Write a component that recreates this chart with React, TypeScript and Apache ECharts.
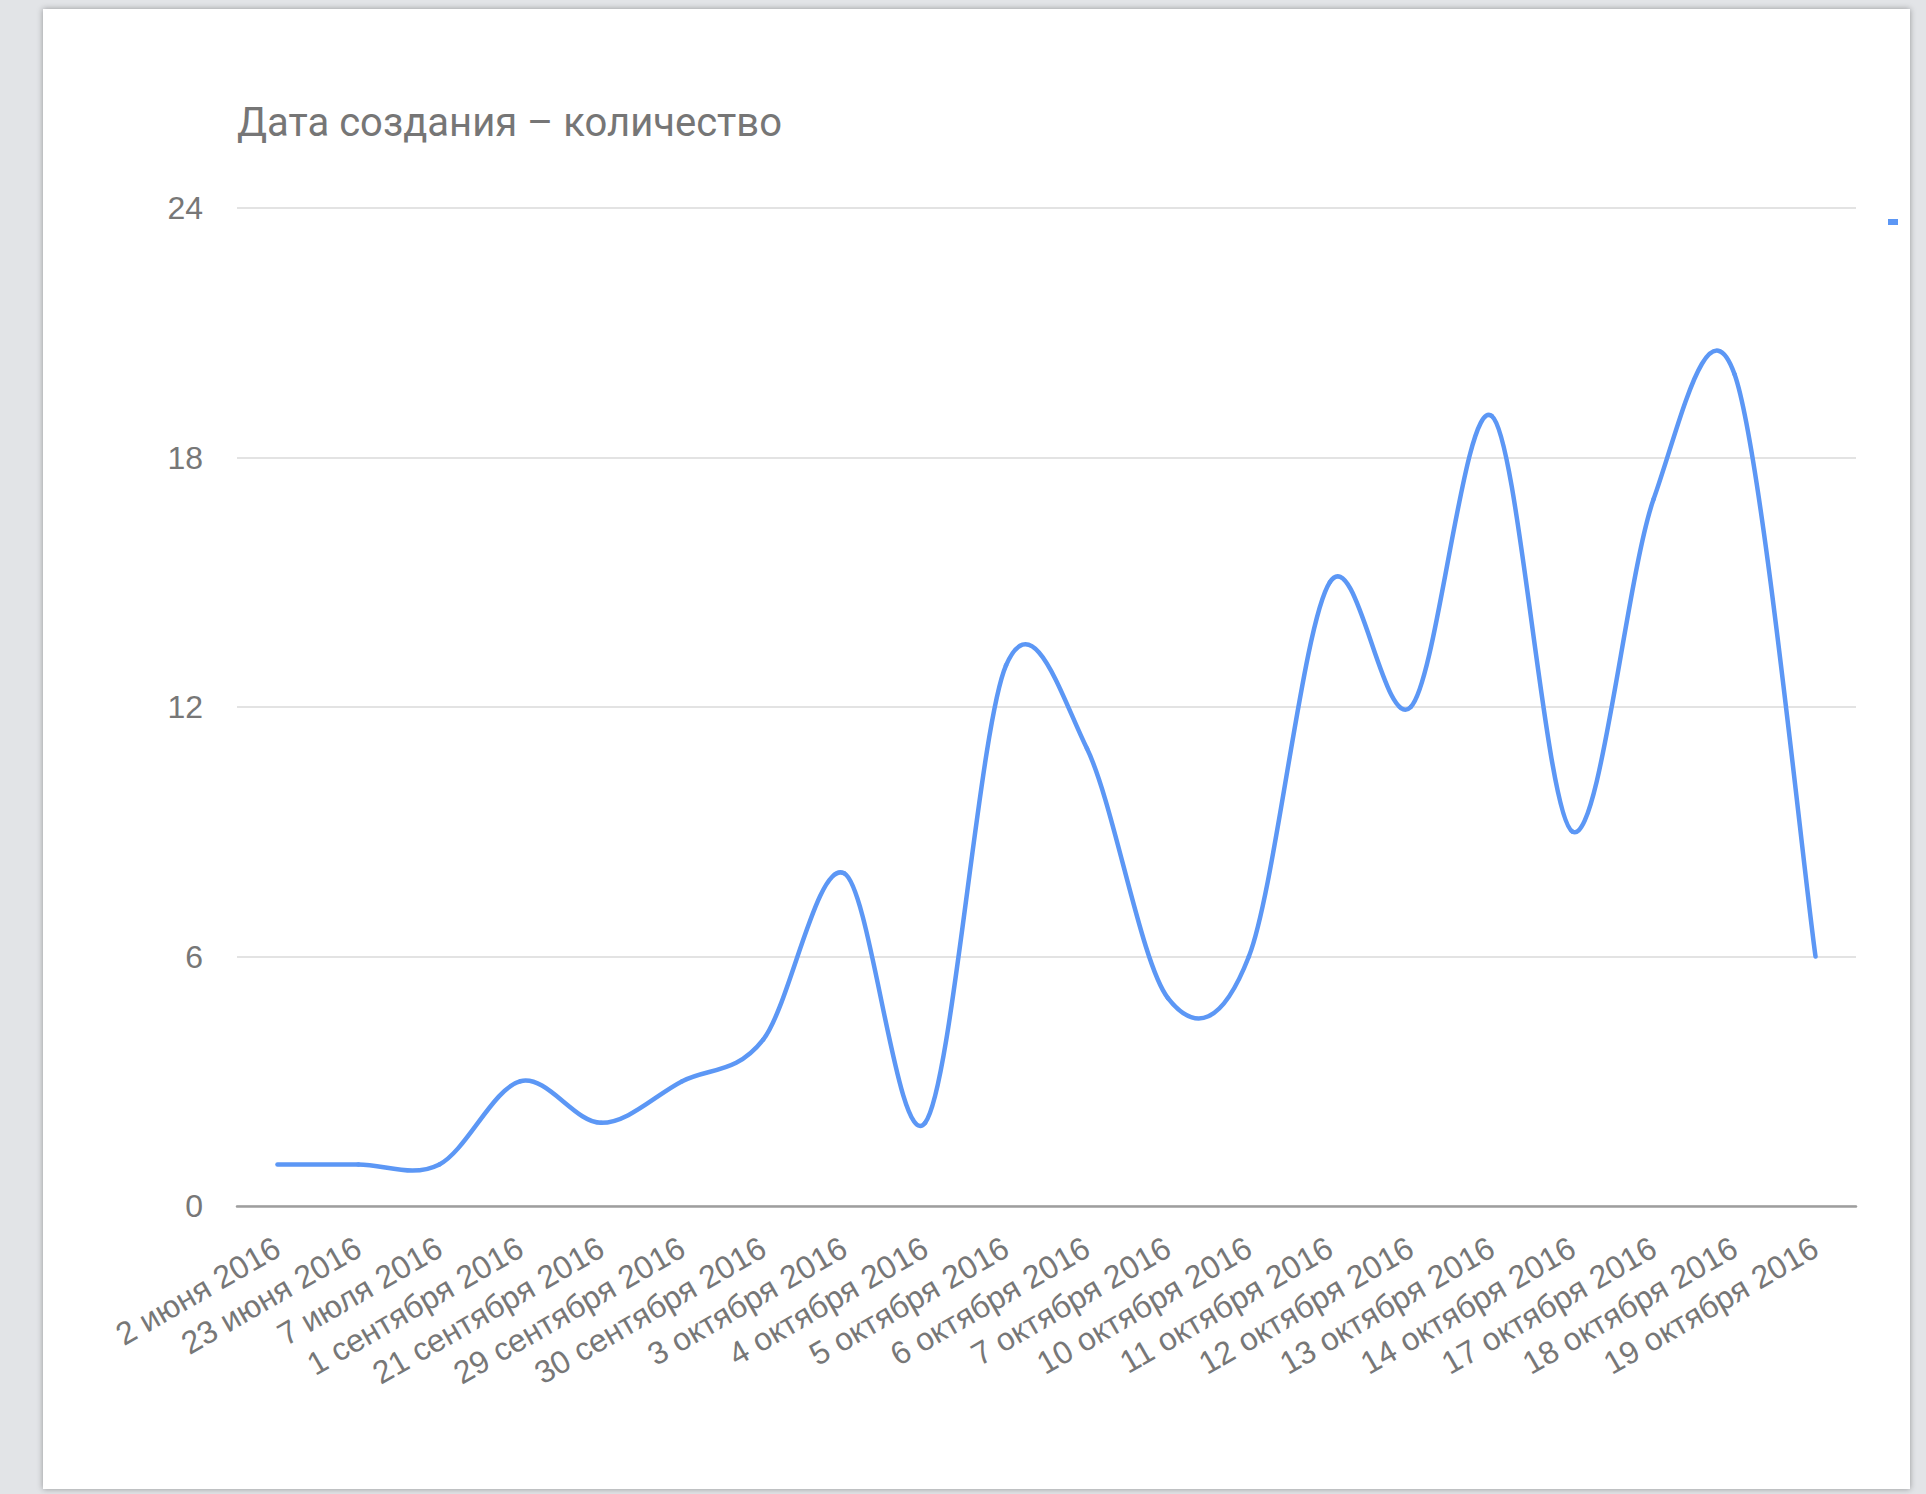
import React, { useEffect, useRef } from "react";
import * as echarts from "echarts";

const categories: string[] = [
  "2 июня 2016",
  "23 июня 2016",
  "7 июля 2016",
  "1 сентября 2016",
  "21 сентября 2016",
  "29 сентября 2016",
  "30 сентября 2016",
  "3 октября 2016",
  "4 октября 2016",
  "5 октября 2016",
  "6 октября 2016",
  "7 октября 2016",
  "10 октября 2016",
  "11 октября 2016",
  "12 октября 2016",
  "13 октября 2016",
  "14 октября 2016",
  "17 октября 2016",
  "18 октября 2016",
  "19 октября 2016",
];

const counts: number[] = [1, 1, 1, 3, 2, 3, 4, 8, 2, 13, 11, 5, 6, 15, 12, 19, 9, 17, 20, 6];

const yMin = 0;
const yMax = 24;
const yInterval = 6;

const titleText = "Дата создания – количество";
const lineColor = "#5c97f5";

export default function App() {
  const ref = useRef<HTMLDivElement>(null);

  useEffect(() => {
    document.body.style.margin = "0";
    document.body.style.overflow = "hidden";
    if (!ref.current) return;
    const chart = echarts.init(ref.current, undefined, { renderer: "svg" });
    const n = counts.length;
    const clamp = (k: number) => Math.max(0, Math.min(n - 1, k));

    chart.setOption({
      animation: false,
      backgroundColor: "transparent",
      title: {
        text: titleText,
        left: 232,
        top: 97,
        textStyle: {
          fontFamily: "Roboto",
          fontSize: 40,
          fontWeight: "normal",
          color: "#767676",
        },
      },
      grid: { left: 237, top: 208, width: 1619, height: 998 },
      xAxis: {
        type: "category",
        data: categories,
        boundaryGap: true,
        axisLine: { show: true, lineStyle: { color: "#9e9e9e", width: 2.5 } },
        axisTick: { show: false },
        axisLabel: {
          interval: 0,
          rotate: 30,
          margin: 39,
          fontFamily: "Liberation Sans, Arial",
          fontSize: 32,
          color: "#777777",
        },
      },
      yAxis: {
        type: "value",
        min: yMin,
        max: yMax,
        interval: yInterval,
        axisLine: { show: false },
        axisTick: { show: false },
        axisLabel: {
          margin: 34,
          fontFamily: "Liberation Sans, Arial",
          fontSize: 32,
          color: "#777777",
        },
        splitLine: { lineStyle: { color: "#e3e3e3", width: 2 } },
      },
      graphic: [
        {
          type: "rect",
          shape: { x: 1888, y: 219, width: 10, height: 6 },
          style: { fill: lineColor },
        },
      ],
      series: [
        {
          type: "custom",
          name: "количество",
          data: counts.map((v, i) => [i, v]),
          encode: { x: 0, y: 1 },
          renderItem: (params: any, api: any) => {
            const i = params.dataIndex;
            if (i >= n - 1) return null;
            const p = (k: number) => {
              const c = clamp(k);
              return api.coord([c, counts[c]]);
            };
            const p0 = p(i - 1);
            const p1 = p(i);
            const p2 = p(i + 1);
            const p3 = p(i + 2);
            const t = 1 / 6;
            return {
              type: "bezierCurve",
              shape: {
                x1: p1[0],
                y1: p1[1],
                x2: p2[0],
                y2: p2[1],
                cpx1: p1[0] + (p2[0] - p0[0]) * t,
                cpy1: p1[1] + (p2[1] - p0[1]) * t,
                cpx2: p2[0] - (p3[0] - p1[0]) * t,
                cpy2: p2[1] - (p3[1] - p1[1]) * t,
              },
              style: { stroke: lineColor, lineWidth: 4.5, fill: "none", lineCap: "round" },
            };
          },
        },
      ],
    });
    return () => chart.dispose();
  }, []);

  return (
    <div style={{ position: "fixed", left: 0, top: 0, width: 1926, height: 1494, background: "#e2e4e7", overflow: "hidden" }}>
      <div
        style={{
          position: "absolute",
          left: 43,
          top: 9,
          width: 1867,
          height: 1480,
          background: "#ffffff",
          boxShadow: "0 0 6px rgba(0,0,0,0.35)",
        }}
      />
      <div ref={ref} style={{ position: "absolute", left: 0, top: 0, width: 1926, height: 1494 }} />
    </div>
  );
}
